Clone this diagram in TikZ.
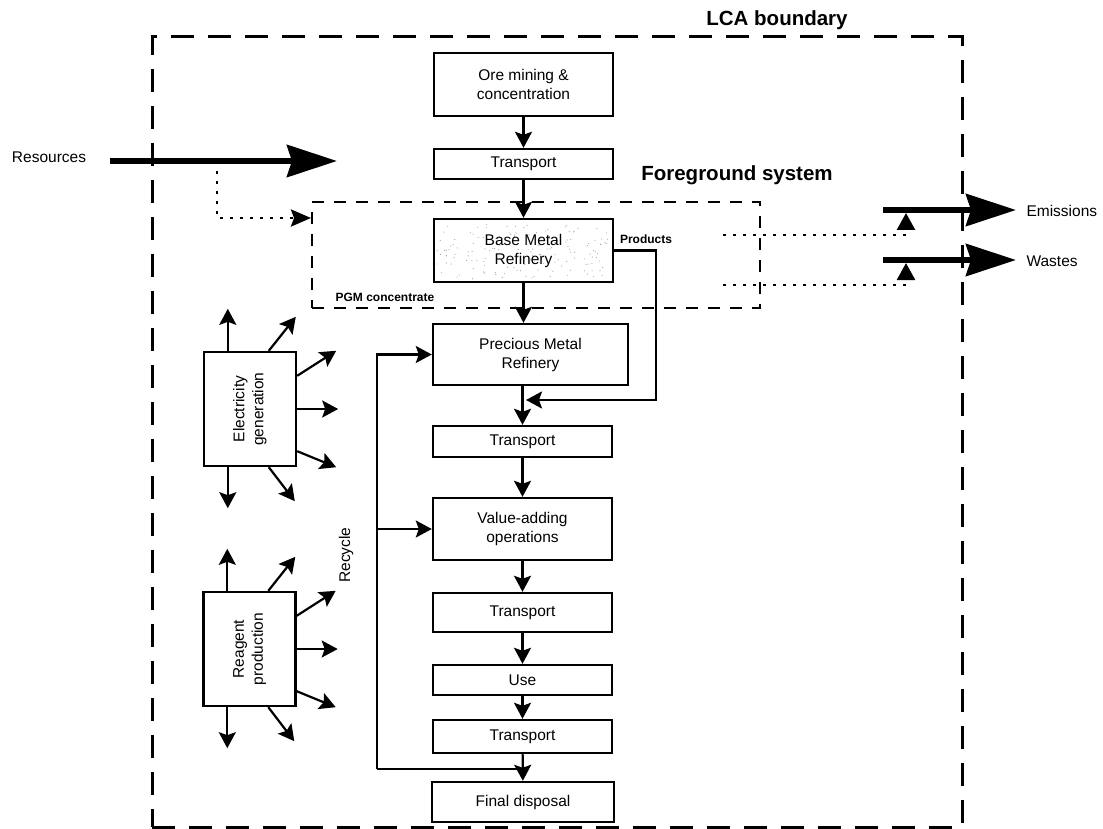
\documentclass[tikz,border=0pt]{standalone}
\usepackage{fontspec}
\setmainfont{Liberation Sans}
\usepackage{graphicx}
\usetikzlibrary{arrows.meta,calc,backgrounds}

\begin{document}
\begin{tikzpicture}[x=1pt,y=-1pt,
    process/.style ={rectangle, draw, line width=2.4pt, inner sep=0pt, minimum width=179pt, align=center, font=\fontsize{15.5}{19}\selectfont},
    sidebox/.style ={rectangle, draw, line width=2.4pt, inner sep=0pt, minimum width=92pt, minimum height=114pt, font=\fontsize{15.5}{19}\selectfont},
    flow/.style ={line width=2.2pt, -{Stealth[length=16pt,width=17pt,inset=3pt]}},
    plain/.style ={line width=2.2pt},
    big/.style ={line width=6pt, -{Stealth[length=50pt,width=32pt,inset=5pt]}},
    dotline/.style ={line width=2.6pt, dash pattern=on 2.6pt off 7.4pt},
    txt/.style ={font=\fontsize{15.5}{19}\selectfont},
    small/.style ={font=\bfseries\fontsize{12}{14}\selectfont},
    title/.style ={font=\bfseries\fontsize{20.5}{24}\selectfont}]
   \useasboundingbox (0,0) rectangle (1103,829);

   % boundaries
   \node[draw, line width=3pt, dash pattern=on 23pt off 14pt, inner sep=0pt,
         minimum width=810pt, minimum height=790pt] (lca) at (557,432) {};
   \node[draw, line width=2.5pt, dash pattern=on 12pt off 10pt, inner sep=0pt,
         minimum width=448pt, minimum height=106pt] (fg) at (536,255) {};
   \node[title] (lcat) at (777,20) {LCA boundary};
   \node[title] (fgt) at (737,175) {Foreground system};

   % main chain
   \node[process, minimum height=63pt] (ore) at (523.5,84.5) {Ore mining \&\\concentration};
   \node[process, minimum height=30pt] (tr1) at (523.5,164) {Transport};
   \node[process, minimum height=63pt] (bmr) at (523.5,250.5) {Base Metal\\Refinery};
   \node[process, minimum width=195pt, minimum height=61pt] (pmr) at (530.5,354.5) {Precious Metal\\Refinery};
   \node[process, minimum height=31pt] (tr2) at (522.5,441.5) {Transport};
   \node[process, minimum height=62pt] (vao) at (522.5,529) {Value-adding\\operations};
   \node[process, minimum height=39pt] (tr3) at (522.5,612.5) {Transport};
   \node[process, minimum height=30pt] (use) at (522.5,680) {Use};
   \node[process, minimum height=33pt] (tr4) at (522.5,736.5) {Transport};
   \node[process, minimum width=182pt, minimum height=40pt] (fd) at (523,802) {Final disposal};

   \begin{scope}[on background layer]
     \pgfmathsetseed{3}
     \foreach \i in {1,...,160}
       \fill[gray!70] ($(bmr.south west)+(4+rnd*171,-4-rnd*55)$) circle (0.6pt);
   \end{scope}

   \draw[flow] (ore) -- (tr1);
   \draw[flow] (tr1) -- (bmr);
   \draw[flow] (bmr.south) -- (bmr.south |- pmr.north);
   \draw[flow] (tr2.north |- pmr.south) -- (tr2.north);
   \draw[flow] (tr2) -- (vao);
   \draw[flow] (vao) -- (tr3);
   \draw[flow] (tr3) -- (use);
   \draw[flow] (use) -- (tr4);
   \draw[flow] (tr4) -- (fd);

   % products
   \node[small] (prod) at (646,239) {Products};
   \node[small] (pgm) at (385,297) {PGM concentrate};
   \coordinate (pturn) at (656,400);
   \coordinate (pend) at (526,400);
   \draw[flow] (bmr.east) -| (pturn) -- (pend);

   % recycle
   \coordinate (rj) at (522.5,769);
   \coordinate (rc) at (377,769);
   \draw[plain] (rj) -- (rc);
   \draw[flow] (rc) |- (pmr.west);
   \draw[flow] (rc |- vao.west) -- (vao.west);
   \node[txt, rotate=90] (rec) at (346,555) {Recycle};

   % background processes
   \node[sidebox] (elec) at (250,409) {\rotatebox{90}{\begin{tabular}{@{}c@{}}Electricity\\generation\end{tabular}}};
   \node[sidebox] (reag) at (249.5,649) {\rotatebox{90}{\begin{tabular}{@{}c@{}}Reagent\\production\end{tabular}}};
   \foreach \b in {elec,reag}{
     \draw[flow] ($(\b.north west)+(25,0)$) -- ++(0,-42);
     \draw[flow] ($(\b.north west)+(66,0)$) -- ++(27,-34);
     \draw[flow] ($(\b.north east)+(0,25)$) -- ++(39,-25);
     \draw[flow] (\b.east) -- ++(41,0);
     \draw[flow] ($(\b.south east)+(0,-16)$) -- ++(39,16);
     \draw[flow] ($(\b.south west)+(66,0)$) -- ++(26,34);
     \draw[flow] ($(\b.south west)+(25,0)$) -- ++(0,41);
   }

   % resources
   \node[txt] (res) at (49,157) {Resources};
   \coordinate (resin) at (110,161);
   \coordinate (resout) at (337,161);
   \draw[big] (resin) -- (resout);
   \coordinate (dA) at (217,171);
   \coordinate (dB) at (311,218);
   \draw[dotline, -{Stealth[length=20pt,width=17pt,inset=3pt]}] (dA) |- (dB);

   % emissions and wastes
   \coordinate (em0) at (883,210);
   \coordinate (em1) at (1016,210);
   \coordinate (wa0) at (883,260);
   \coordinate (wa1) at (1016,260);
   \draw[big] (em0) -- (em1);
   \draw[big] (wa0) -- (wa1);
   \node[txt, anchor=west] (emt) at (1023,211) {Emissions};
   \node[txt, anchor=west] (wat) at (1023,261) {Wastes};
   \coordinate (ed) at (723,235);
   \coordinate (edt) at (906,213);
   \coordinate (wd) at (723,285);
   \coordinate (wdt) at (906,263);
   \draw[dotline, -{Triangle[length=17pt,width=18pt]}] (ed) -| (edt);
   \draw[dotline, -{Triangle[length=17pt,width=18pt]}] (wd) -| (wdt);
\end{tikzpicture}
\end{document}
